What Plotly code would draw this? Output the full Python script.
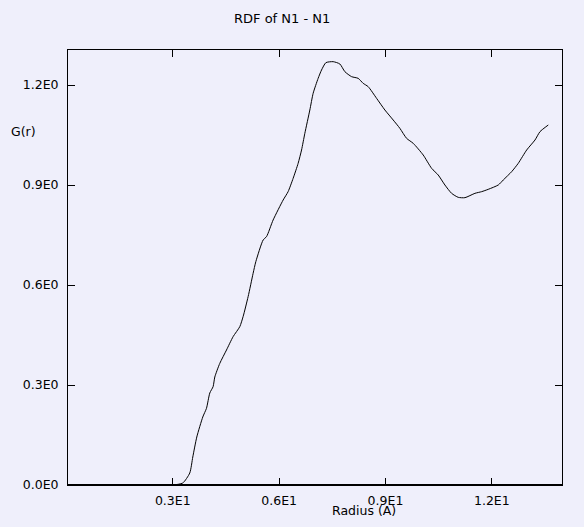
import plotly.graph_objects as go

# Data
radius = [0.05, 1.0, 2.0, 3.0, 3.283, 3.480, 3.565, 3.678, 3.847, 3.951, 4.045, 4.138, 4.186,
          4.327, 4.516, 4.702, 4.891, 4.984, 5.126, 5.267, 5.343, 5.549, 5.645, 5.831,
          6.114, 6.254, 6.396, 6.537, 6.633, 6.726, 6.867, 6.960, 7.101, 7.197, 7.319,
          7.525, 7.714, 7.855, 8.044, 8.230, 8.371, 8.513, 8.750, 8.984, 9.218, 9.407,
          9.596, 9.783, 10.065, 10.302, 10.488, 10.677, 10.866, 11.053, 11.242, 11.524,
          11.713, 11.899, 12.182, 12.323, 12.560, 12.746, 12.983, 13.218, 13.359, 13.593]
g_r = [0.0, 0.0, 0.0, 0.0, 0.006, 0.036, 0.084, 0.144, 0.204, 0.230, 0.276, 0.295, 0.324,
       0.365, 0.405, 0.445, 0.475, 0.505, 0.565, 0.635, 0.670, 0.735, 0.745, 0.795,
       0.855, 0.880, 0.920, 0.965, 1.005, 1.055, 1.125, 1.175, 1.220, 1.245, 1.267,
       1.270, 1.263, 1.240, 1.225, 1.220, 1.205, 1.195, 1.160, 1.125, 1.095, 1.070,
       1.040, 1.025, 0.990, 0.950, 0.930, 0.900, 0.875, 0.863, 0.862, 0.875,
       0.880, 0.887, 0.900, 0.915, 0.940, 0.965, 1.005, 1.035, 1.060, 1.080]

x_tick_vals = [3, 6, 9, 12]
x_tick_text = ["0.3E1", "0.6E1", "0.9E1", "1.2E1"]
y_tick_vals = [0.0, 0.3, 0.6, 0.9, 1.2]
y_tick_text = ["0.0E0", "0.3E0", "0.6E0", "0.9E0", "1.2E0"]

title_text = "RDF of N1 - N1"
x_title = "Radius (A)"
y_title = "G(r)"

BG = "#efeffb"
FONT = "DejaVu Sans"

fig = go.Figure()
fig.add_trace(go.Scatter(x=radius, y=g_r, mode="lines",
                         line=dict(color="black", width=1, shape="spline", smoothing=0.6),
                         showlegend=False, hoverinfo="x+y"))

fig.update_layout(
    width=584, height=527,
    margin=dict(l=68, r=22, t=50, b=42),
    paper_bgcolor=BG, plot_bgcolor=BG,
    font=dict(family=FONT, size=12.5, color="black"),
    showlegend=False,
)
fig.update_xaxes(range=[0.045, 13.98], tickvals=x_tick_vals, ticktext=x_tick_text,
                 showgrid=False, zeroline=False, showline=True, linecolor="black",
                 linewidth=1, mirror="ticks", ticks="inside", ticklen=7,
                 tickcolor="black", tickwidth=1, ticklabelstandoff=4)
fig.update_yaxes(range=[0, 1.305], tickvals=y_tick_vals, ticktext=y_tick_text,
                 showgrid=False, zeroline=False, showline=True, linecolor="black",
                 linewidth=1, mirror="ticks", ticks="inside", ticklen=7,
                 tickcolor="black", tickwidth=1, ticklabelstandoff=6)

# thicker bottom axis line
fig.add_shape(type="line", xref="paper", yref="paper", x0=0, x1=1, y0=0, y1=0,
              line=dict(color="black", width=2))

fig.add_annotation(text=title_text, xref="paper", yref="paper", x=(282 - 68) / 494,
                   y=1 + (50 - 18) / 435, xanchor="center", yanchor="middle",
                   showarrow=False, font=dict(family=FONT, size=13))
fig.add_annotation(text=x_title, xref="paper", yref="paper", x=(364 - 68) / 494,
                   y=-(510 - 485) / 435, xanchor="center", yanchor="middle",
                   showarrow=False, font=dict(family=FONT, size=12.5))
fig.add_annotation(text=y_title, xref="paper", yref="paper", x=(23 - 68) / 494,
                   y=(485 - 131) / 435, xanchor="center", yanchor="middle",
                   showarrow=False, font=dict(family=FONT, size=12.5))

fig.write_html(
    "out.html",
    config={"displayModeBar": False},
    post_script=(
        "document.body.style.margin='0px';"
        "document.body.style.padding='0px';"
        "document.body.style.background='" + BG + "';"
        "document.documentElement.style.background='" + BG + "';"
        "document.body.style.overflow='hidden';"
    ),
)
